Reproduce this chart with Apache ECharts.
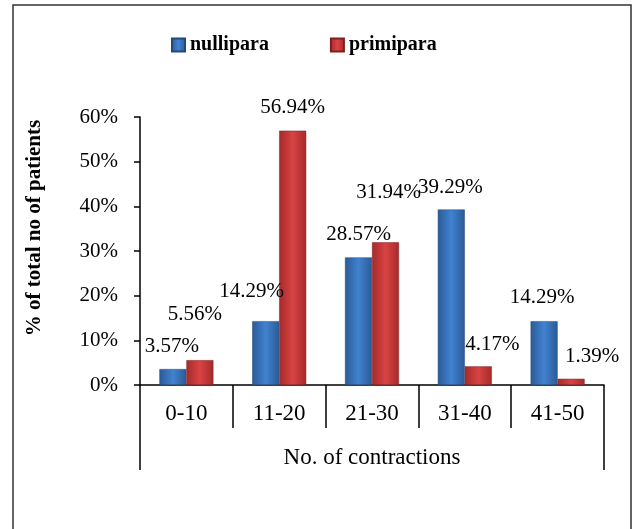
<!DOCTYPE html>
<html>
<head>
<meta charset="utf-8">
<script src="https://cdn.jsdelivr.net/npm/echarts@6/dist/echarts.min.js"></script>
<style>
  html, body { margin: 0; padding: 0; background: #fff; }
  #main { width: 633px; height: 529px; }
</style>
</head>
<body>
<div id="main"></div>
<script>
// data
var categories = ['0-10', '11-20', '21-30', '31-40', '41-50']
var nullipara = [3.57, 14.29, 28.57, 39.29, 14.29]
var primipara = [5.56, 56.94, 31.94, 4.17, 1.39]
var seriesNames = ['nullipara', 'primipara']
var xTitle = 'No. of contractions'
var yTitle = '% of total no of patients'

// label nudges (like the hand-placed labels in the original)
var nulliOffsets = [[-1, -7], [-14, -14], [0, -7], [-1, -7], [-2, -8]]
var primiOffsets = [[-5, -30], [0, -8], [3, -34], [14, -6], [21, -7]]

var font = '"Liberation Serif", "Times New Roman", serif'

function barGradient(edge, mid) {
    return new echarts.graphic.LinearGradient(0, 0, 1, 0, [
        { offset: 0, color: edge },
        { offset: 0.5, color: mid },
        { offset: 1, color: edge }
    ])
}

function withLabels(values, offsets) {
    return values.map(function (v, i) {
        return { value: v, label: { offset: offsets[i] } }
    })
}

var chart = echarts.init(document.getElementById('main'))
chart.setOption({
    animation: false,
    textStyle: { fontFamily: font },
    grid: { left: 140, right: 29, top: 117, bottom: 144 },
    legend: {
        left: 166,
        top: 30,
        itemWidth: 13,
        itemHeight: 13,
        itemGap: 61,
        icon: 'rect',
        textStyle: { fontFamily: font, fontWeight: 'bold', fontSize: 20, color: '#000' },
        data: seriesNames
    },
    xAxis: [
        {
            type: 'category',
            data: categories,
            axisLine: { lineStyle: { color: '#000', width: 1.5 } },
            axisTick: { show: true, alignWithLabel: false, length: 43, lineStyle: { color: '#000', width: 1.5 } },
            axisLabel: { color: '#000', fontSize: 23, margin: 17, fontFamily: font }
        },
        {
            type: 'category',
            position: 'bottom',
            data: [xTitle],
            axisLine: { show: false },
            axisTick: { show: true, alignWithLabel: false, length: 85, lineStyle: { color: '#000', width: 1.5 } },
            axisLabel: { color: '#000', fontSize: 23, margin: 61, fontFamily: font }
        }
    ],
    yAxis: {
        type: 'value',
        min: 0,
        max: 60,
        interval: 10,
        axisLine: { show: true, lineStyle: { color: '#000', width: 1.5 } },
        axisTick: { show: true, length: 6, lineStyle: { color: '#000', width: 1.5 } },
        splitLine: { show: false },
        axisLabel: { color: '#000', fontSize: 21, margin: 22, fontFamily: font, formatter: '{value}%' }
    },
    graphic: [
        {
            type: 'rect',
            shape: { x: 13, y: 5, width: 618, height: 540 },
            style: { fill: 'none', stroke: '#333', lineWidth: 1.5 },
            silent: true
        },
        {
            type: 'text',
            x: 35,
            y: 228,
            rotation: Math.PI / 2,
            style: {
                text: yTitle,
                font: 'bold 21px ' + font,
                fill: '#000',
                align: 'center',
                verticalAlign: 'middle'
            }
        }
    ],
    series: [
        {
            name: seriesNames[0],
            type: 'bar',
            xAxisIndex: 0,
            barWidth: 27,
            barGap: 0,
            itemStyle: { color: barGradient('#2b5a96', '#4182d0'), borderColor: '#24497a', borderWidth: 0.5 },
            label: { show: true, position: 'top', color: '#000', fontSize: 21, fontFamily: font, formatter: '{c}%' },
            data: withLabels(nullipara, nulliOffsets)
        },
        {
            name: seriesNames[1],
            type: 'bar',
            xAxisIndex: 0,
            barWidth: 27,
            barGap: 0,
            itemStyle: { color: barGradient('#a52a2a', '#d94343'), borderColor: '#7e2020', borderWidth: 0.5 },
            label: { show: true, position: 'top', color: '#000', fontSize: 21, fontFamily: font, formatter: '{c}%' },
            data: withLabels(primipara, primiOffsets)
        }
    ]
})
</script>
</body>
</html>
